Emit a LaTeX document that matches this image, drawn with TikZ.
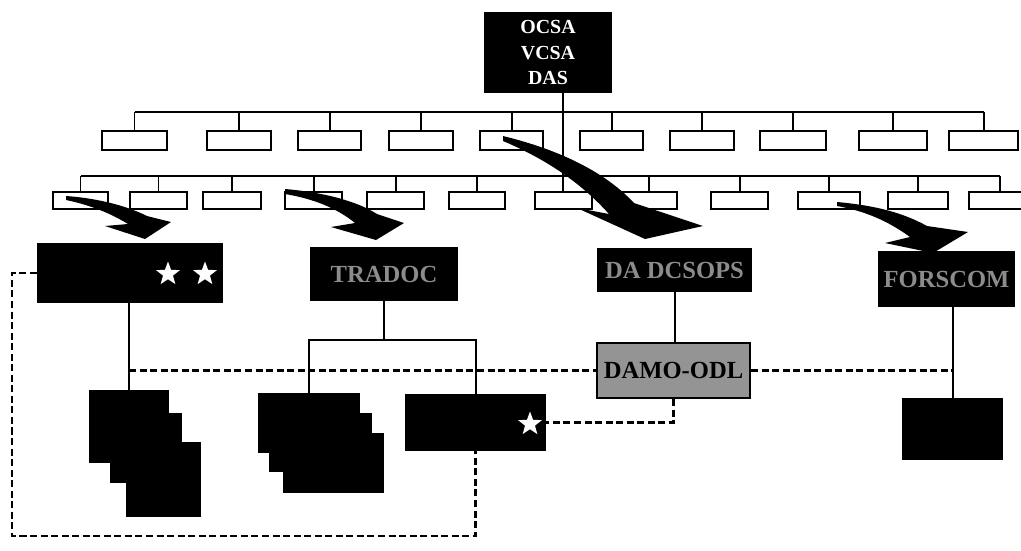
\documentclass[tikz,border=0pt]{standalone}
\usepackage{fontspec}
\setmainfont{Liberation Serif}
\usetikzlibrary{shapes.geometric,fit}
\begin{document}
\begin{tikzpicture}[x=0.03cm,y=-0.03cm,
 wbox/.style={draw=black,line width=1.7pt,fill=white,inner sep=0pt},
 bbox/.style={fill=black,inner sep=0pt},
 conn/.style={line width=1.7pt},
 dsh/.style={line width=2.1pt,dash pattern=on 6pt off 3pt},
 dshb/.style={line width=2.5pt,dash pattern=on 6pt off 3pt},
 wstar/.style={star,star points=5,star point ratio=2.4,fill=white,inner sep=0pt,minimum size=0.75cm},
 gtxt/.style={text=black!45,font=\bfseries\fontsize{21}{25}\selectfont,inner sep=0pt},
 swoosh/.style={fill=black}]
\useasboundingbox (0,0) rectangle (1021,550);
\coordinate (bus1) at (0,112);
\coordinate (bus2) at (0,176);
\coordinate (tjy) at (0,340);
\coordinate (lc) at (12,536);
\coordinate (mainx) at (563,0);
% top
\node[bbox, fit={(484,12) (612,93)}, label={[text=white, font=\bfseries\fontsize{17}{22}\selectfont, align=center, inner sep=0pt]center:OCSA\\VCSA\\DAS}] (top) {};
% row 1
\foreach \a/\b [count=\i] in {102/167,207/271,298/361,389/453,480/543,580/643,670/734,760/826,859/927,949/1018}
  \node[wbox, fit={(\a,131) (\b,150)}] (r1-\i) {};
\foreach \i in {1,...,10} \draw[conn] (r1-\i.north) -- (r1-\i.north |- bus1);
\draw[conn] (r1-1.north |- bus1) -- (r1-10.north |- bus1);
% row 2
\foreach \a/\b [count=\i] in {53/108,130/187,203/261,285/342,367/424,449/505,535/592,620/677,711/768,798/860,888/948,969/1030}
  \node[wbox, fit={(\a,192) (\b,209)}] (r2-\i) {};
\foreach \i in {1,2,3,4,5,6,8,9,10,11,12} \draw[conn] (r2-\i.north) -- (r2-\i.north |- bus2);
\draw[conn] (r2-1.north |- bus2) -- (r2-12.north |- bus2);
\draw[conn] (top.south -| mainx) -- (r2-7.north -| mainx);
% swoosh arrows
\fill[swoosh] (66,196) .. controls (95,198) and (125,205) .. (147,216) -- (171,222) -- (145,239) -- (105,226) -- (128,224) .. controls (110,213) and (90,205) .. (66,200) -- cycle;
\fill[swoosh] (285,189) .. controls (320,192) and (355,200) .. (377,214) -- (404,223) -- (376,240) -- (331,227) -- (355,223) .. controls (338,209) and (315,199) .. (285,194) -- cycle;
\fill[swoosh] (503,136) .. controls (560,150) and (605,172) .. (634,203) -- (703,226) -- (645,239) -- (577,208) -- (609,214) .. controls (582,184) and (548,160) .. (503,141) -- cycle;
\fill[swoosh] (837,202) .. controls (870,205) and (900,211) .. (927,226) -- (968,232) -- (933,253) -- (885,243) -- (910,237) .. controls (888,221) and (865,211) .. (837,206) -- cycle;
% level 2
\node[bbox, fit={(37,243) (223,303)}] (cmdA) {};
\node[wstar] (sA1) at (168,274) {};
\node[wstar] (sA2) at (205,274) {};
\node[bbox, fit={(310,247) (458,301)}, label={[gtxt]center:TRADOC}] (tradoc) {};
\node[bbox, fit={(597,248) (752,292)}, label={[gtxt]center:DA DCSOPS}] (dcsops) {};
\node[bbox, fit={(878,251) (1015,307)}, label={[gtxt]center:FORSCOM}] (forscom) {};
\node[fit={(597,343) (750,398)}, draw, line width=1.7pt, fill=black!42, inner sep=0pt, label={[font=\bfseries\fontsize{21}{25}\selectfont, inner sep=0pt]center:DAMO-ODL}] (damo) {};
% level 3
\node[bbox, fit={(126,442) (201,517)}] (s1c) {};
\node[bbox, fit={(110,413) (182,483)}] (s1b) {};
\node[bbox, fit={(89,390) (169,463)}] (s1a) {};
\node[bbox, fit={(283,433) (384,493)}] (s2c) {};
\node[bbox, fit={(269,413) (372,472)}] (s2b) {};
\node[bbox, fit={(258,393) (360,453)}] (s2a) {};
\node[bbox, fit={(405,394) (546,451)}] (boxE) {};
\node[wstar] (sE) at (530,424) {};
\node[bbox, fit={(902,398) (1003,460)}] (boxF) {};
% solid connectors
\draw[conn] (s1a.north |- cmdA.south) -- (s1a.north);
\draw[conn] (tradoc.south) -- (tradoc.south |- tjy);
\draw[conn] (s2a.north) |- (boxE.north |- tjy) -- (boxE.north);
\draw[conn] (dcsops.south) -- (dcsops.south |- damo.north);
\draw[conn] (boxF.north |- forscom.south) -- (boxF.north);
% dashed connectors
\draw[dsh] (s1a.north |- damo.west) -- (damo.west);
\draw[dsh] (damo.east) -- (damo.east -| boxF.north);
\draw[dsh] (damo.south) |- (boxE.east);
\draw[dshb] (cmdA.west) -| (lc) -| (boxE.south);
\end{tikzpicture}
\end{document}
